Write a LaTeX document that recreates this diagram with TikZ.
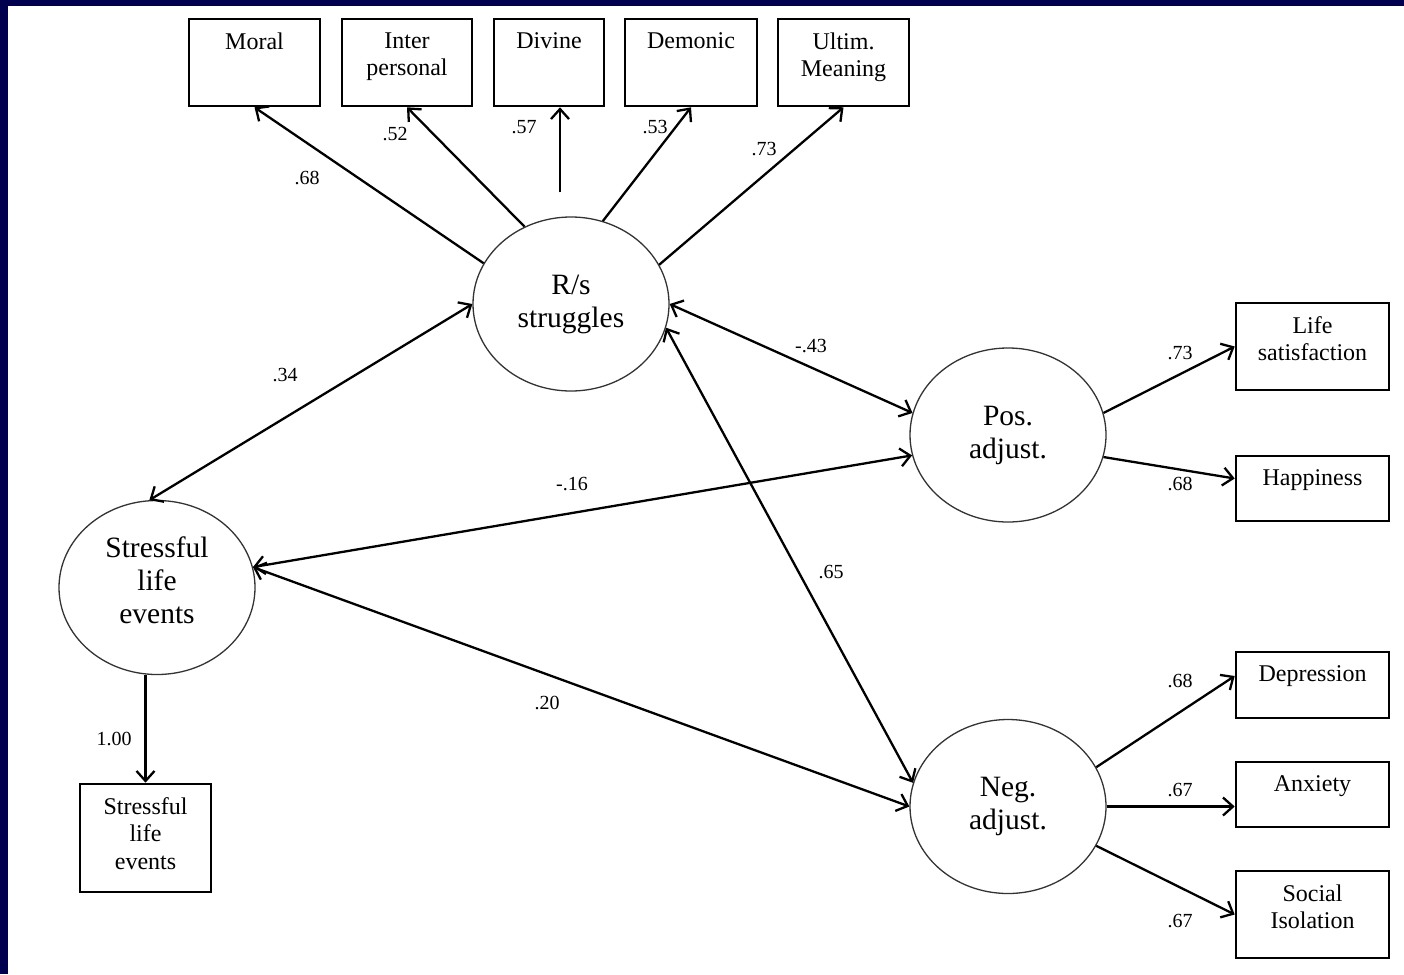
\documentclass[tikz,border=0pt]{standalone}
\usepackage{fontspec}
\setmainfont{Liberation Serif}
\usetikzlibrary{shapes.geometric,arrows.meta,calc}
\definecolor{navyframe}{RGB}{0,0,78}
\newcommand\bxfont{\fontsize{24}{27.5}\selectfont}
\newcommand\elfont{\fontsize{29.5}{33}\selectfont}
\newcommand\lbfont{\fontsize{20}{22}\selectfont}
\begin{document}
\begin{tikzpicture}[x=1pt,y=-1pt,
  ibox/.style={draw, line width=2.6pt, inner sep=0pt},
  btext/.style={label={[anchor=north,yshift=-14.5pt,align=center,font=\bxfont,inner sep=0pt]north:#1}},
  latent/.style={draw, ellipse, line width=1.3pt, draw=black!80, inner sep=0pt,
    minimum width=196pt, minimum height=174pt, align=center, font=\elfont},
  arr/.style={line width=2.3pt, -{Straight Barb[length=10pt,width=18pt,line width=2.3pt]}},
  darr/.style={line width=2.3pt, {Straight Barb[length=10pt,width=18pt,line width=2.3pt]}-{Straight Barb[length=10pt,width=18pt,line width=2.3pt]}},
  coef/.style={font=\lbfont, inner sep=0pt}]
% background frame
\fill[navyframe] (0,0) rectangle (1404,974);
\fill[white] (8,6) rectangle (1404,974);
\useasboundingbox (0,0) rectangle (1404,974);
% top indicator boxes
\node[ibox, minimum width=131pt, minimum height=87pt, btext={Moral}] (moral) at (254.5,62.5) {};
\node[ibox, minimum width=130pt, minimum height=87pt, btext={Inter\\personal}] (inter) at (407,62.5) {};
\node[ibox, minimum width=110pt, minimum height=87pt, btext={Divine}] (divine) at (549,62.5) {};
\node[ibox, minimum width=132pt, minimum height=87pt, btext={Demonic}] (demonic) at (691,62.5) {};
\node[ibox, minimum width=131pt, minimum height=87pt, btext={Ultim.\\Meaning}] (ultim) at (843.5,62.5) {};
% latent variables
\node[latent] (rs) at (571,304) {R/s\\struggles};
\node[latent] (pos) at (1008,435) {Pos.\\adjust.};
\node[latent] (neg) at (1008,806.5) {Neg.\\adjust.};
\node[latent, label={[anchor=center,yshift=7pt,align=center,font=\elfont,inner sep=0pt]center:Stressful\\life\\events}] (sle) at (157,587.5) {};
% right indicator boxes
\node[ibox, minimum width=153pt, minimum height=87pt, btext={Life\\satisfaction}] (lifesat) at (1312.5,346.5) {};
\node[ibox, minimum width=153pt, minimum height=65pt, btext={Happiness}] (happ) at (1312.5,488.5) {};
\node[ibox, minimum width=153pt, minimum height=66pt, btext={Depression}] (dep) at (1312.5,685) {};
\node[ibox, minimum width=153pt, minimum height=65pt, btext={Anxiety}] (anx) at (1312.5,794.5) {};
\node[ibox, minimum width=153pt, minimum height=87pt, btext={Social\\Isolation}] (soc) at (1312.5,914.5) {};
\node[ibox, minimum width=131pt, minimum height=108pt, btext={Stressful\\life\\events}] (sbox) at (145.5,838) {};
% loadings of R/s struggles
\draw[arr] (rs.155) -- (moral.south);
\draw[arr] (rs.121) -- (inter.south);
\draw[arr] ($(rs.north)+(-11,-24)$) -- ($(divine.south)+(11,0)$);
\draw[arr] (rs.69) -- (demonic.south);
\draw[arr] (rs.24) -- (ultim.south);
% correlations
\draw[darr] (rs.west) -- (sle.95);
\draw[darr] (rs.east) -- (pos.167);
\draw[darr] (rs.-14) -- (neg.166);
\draw[darr] (sle.12) -- (pos.192);
\draw[darr] (sle.12) -- (neg.west);
% other loadings
\draw[arr] (sle.south -| sbox.north) -- (sbox.north);
\draw[arr] (pos.13) -- (lifesat.west);
\draw[arr] (pos.-13) -- ($(happ.west)+(0,-10)$);
\draw[arr] (neg.24) -- ($(dep.west)+(0,-9)$);
\draw[arr] (neg.east) -- (neg.east -| anx.west);
\draw[arr] (neg.-24) -- (soc.west);
% coefficients
\node[coef] (c1) at (307,178) {.68};
\node[coef] (c2) at (395,134) {.52};
\node[coef] (c3) at (524,127) {.57};
\node[coef] (c4) at (655,127) {.53};
\node[coef] (c5) at (764,149) {.73};
\node[coef] (c6) at (285,375) {.34};
\node[coef] (c7) at (811,346) {-.43};
\node[coef] (c8) at (572,484) {-.16};
\node[coef] (c9) at (831,572) {.65};
\node[coef] (c10) at (547,703) {.20};
\node[coef] (c11) at (114,739) {1.00};
\node[coef] (c12) at (1180,353) {.73};
\node[coef] (c13) at (1180,484) {.68};
\node[coef] (c14) at (1180,681) {.68};
\node[coef] (c15) at (1180,790) {.67};
\node[coef] (c16) at (1180,921) {.67};
\end{tikzpicture}
\end{document}
